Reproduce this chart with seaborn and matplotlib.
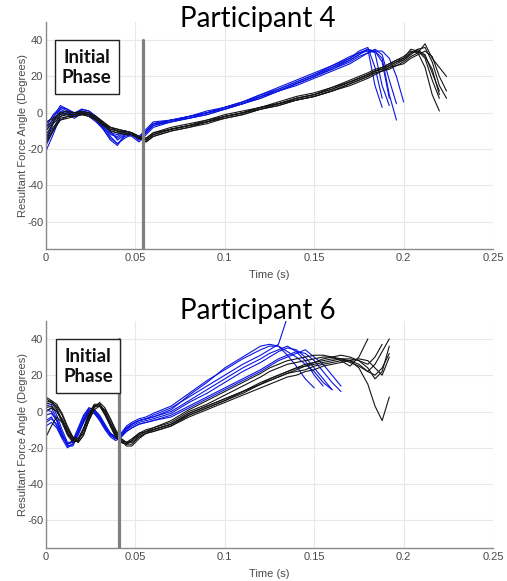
import numpy as np
import pandas as pd
import seaborn as sns
import matplotlib
matplotlib.use("Agg")
import matplotlib.pyplot as plt
from matplotlib.patches import Rectangle

# time grids (s)
t_p4 = [0, .004, .008, .012, .016, .020, .024, .028, .032, .036, .040, .044, .048, .052,
        .056, .060, .070, .080, .090, .100, .110, .120, .130, .140, .150, .160, .170, .175,
        .180, .184, .188, .192, .196, .200, .204, .208, .212, .216, .220, .224]
t_p6 = [0, .003, .006, .009, .012, .015, .018, .021, .024, .027, .030, .033, .036, .039,
        .042, .045, .048, .052, .056, .060, .070, .080, .090, .100, .110, .120, .125, .130,
        .135, .140, .145, .150, .155, .160, .165, .170, .175, .180, .184, .188, .192]

# participant 4 traces (degrees)
p4_blue = [
    [-21, -12, -2, 0, -1, 1, 0, -3, -8, -13, -17, -13, -12, -15, -11, -7, -4, -2, 0, 3, 6, 10, 13, 17, 21, 26, 30, 33, 35, 15, 3],
    [-16, -6, 3, 1, -2, 0, -1, -4, -9, -15, -18, -12, -11, -14, -10, -6, -4, -3, -1, 2, 5, 9, 12, 16, 20, 24, 29, 32, 35, 33, 15, 4],
    [-10, -3, 4, 2, -1, 1, 0, -3, -7, -11, -14, -11, -12, -14, -10, -6, -5, -2, 0, 3, 6, 10, 14, 18, 22, 26, 31, 33, 34, 34, 30, 10, -4],
    [-6, -2, 2, 0, -2, -1, -1, -4, -8, -12, -13, -10, -11, -13, -9, -5, -4, -2, 1, 3, 5, 8, 12, 15, 19, 23, 27, 30, 33, 34, 34, 30, 20, 6],
    [-18, -10, 0, 1, -1, 2, 1, -2, -6, -10, -15, -12, -13, -16, -12, -8, -5, -3, -1, 2, 5, 9, 13, 17, 21, 25, 30, 34, 36, 25, 8],
    [-14, -5, 1, -1, -3, 0, -2, -5, -9, -14, -17, -14, -12, -15, -11, -7, -5, -3, 0, 2, 5, 8, 12, 16, 20, 25, 29, 32, 35, 34, 28, 8],
    [-8, -1, 3, 2, 0, 2, 1, -2, -6, -11, -12, -10, -11, -14, -10, -6, -4, -2, 0, 3, 6, 9, 12, 16, 20, 24, 28, 31, 33, 35, 32, 18, 5],
]
p4_black = [
    [-14, -8, -3, -2, -1, 0, -1, -3, -6, -9, -10, -11, -12, -14, -15, -12, -9, -7, -5, -2, 0, 3, 5, 8, 10, 13, 17, 19, 21, 23, 24, 26, 28, 30, 33, 34, 30, 18, 8],
    [-17, -10, -4, -3, -2, -1, -2, -4, -7, -10, -11, -12, -12, -13, -16, -13, -10, -8, -5, -3, -1, 2, 4, 7, 9, 12, 16, 18, 20, 22, 23, 25, 27, 29, 32, 35, 36, 28, 15, 8],
    [-10, -5, -1, 0, 0, 1, 0, -2, -5, -8, -9, -10, -11, -13, -14, -11, -8, -6, -4, -1, 1, 3, 6, 9, 11, 14, 18, 20, 22, 24, 25, 27, 29, 31, 34, 33, 25, 10, 1],
    [-5, -3, 0, 1, 0, 0, -1, -3, -6, -9, -10, -11, -12, -14, -15, -12, -9, -7, -5, -2, 0, 2, 5, 7, 9, 12, 16, 18, 20, 22, 23, 25, 26, 28, 31, 33, 38, 30, 25, 20],
    [-12, -6, -2, -1, -1, 0, -1, -3, -6, -8, -9, -10, -11, -13, -14, -11, -9, -7, -4, -2, 0, 3, 5, 8, 10, 13, 17, 19, 21, 23, 25, 27, 29, 30, 35, 34, 32, 22, 12],
    [-16, -9, -4, -2, -2, -1, -1, -4, -7, -10, -11, -11, -12, -14, -16, -13, -10, -8, -6, -3, -1, 2, 4, 7, 9, 12, 15, 17, 19, 21, 23, 24, 26, 27, 30, 32, 34, 31, 20, 12],
    [-8, -4, 0, -1, -1, 0, 0, -2, -5, -8, -10, -10, -11, -13, -15, -12, -9, -7, -5, -2, 0, 3, 5, 8, 10, 14, 17, 19, 21, 23, 24, 26, 28, 29, 33, 35, 31, 24, 10],
]

# participant 6 traces (degrees)
p6_blue = [
    [0, 2, -4, -12, -19, -18, -12, -5, 1, 0, -4, -9, -13, -15, -13, -9, -7, -5, -4, -3, 1, 9, 16, 24, 30, 36, 37, 36, 31, 25, 18, 13],
    [-5, -3, -8, -14, -18, -16, -9, -2, 2, 1, -3, -8, -12, -14, -13, -10, -7, -5, -4, -2, 2, 8, 14, 20, 26, 31, 34, 37, 52],
    [-8, -6, -9, -15, -20, -18, -12, -5, 0, -1, -5, -10, -14, -16, -14, -10, -8, -6, -5, -4, -1, 5, 10, 16, 22, 27, 30, 33, 35, 34, 30, 24, 18, 12],
    [3, 4, -2, -10, -17, -17, -12, -6, 0, 1, -2, -7, -12, -15, -14, -11, -9, -7, -6, -5, -2, 3, 8, 13, 18, 23, 26, 29, 31, 33, 32, 28, 22, 16, 11],
    [-2, -1, -5, -12, -18, -17, -11, -4, 1, 0, -4, -9, -13, -14, -12, -9, -7, -5, -4, -3, 0, 6, 12, 18, 24, 29, 32, 34, 36, 33, 28, 20, 14],
    [-6, -4, -7, -13, -19, -19, -13, -6, -1, -1, -4, -9, -13, -15, -14, -11, -9, -7, -6, -5, -3, 2, 7, 12, 17, 22, 25, 28, 30, 32, 34, 30, 26, 20, 14],
    [1, 0, -5, -13, -18, -16, -10, -3, 2, 1, -3, -8, -12, -14, -12, -8, -6, -4, -3, -1, 3, 10, 17, 23, 29, 34, 36, 36, 33, 30, 26, 22, 16, 12],
]
p6_black = [
    [8, 6, 2, -5, -12, -16, -15, -9, -1, 4, 4, -1, -8, -14, -17, -18, -16, -12, -10, -9, -6, 0, 4, 9, 14, 19, 22, 24, 26, 27, 28, 29, 30, 30, 29, 27, 25, 22, 26, 33, 40],
    [5, 6, 4, -1, -8, -14, -17, -13, -5, 2, 5, 2, -4, -11, -16, -19, -19, -15, -12, -11, -8, -2, 2, 6, 10, 15, 17, 19, 21, 23, 25, 27, 28, 29, 29, 28, 24, 15, 3, -5, 8],
    [-14, -8, -3, -6, -12, -16, -16, -10, -3, 3, 3, -1, -7, -13, -16, -17, -15, -12, -11, -10, -7, -1, 3, 7, 11, 16, 18, 20, 22, 24, 26, 27, 29, 30, 31, 30, 28, 26, 30, 37],
    [2, 3, 0, -5, -11, -15, -15, -10, -2, 3, 4, 0, -6, -12, -15, -17, -16, -13, -11, -10, -7, -1, 3, 7, 11, 15, 17, 19, 21, 22, 23, 25, 26, 27, 28, 28, 26, 22, 20, 24, 32],
    [7, 5, 1, -6, -13, -17, -16, -10, -2, 3, 3, -2, -8, -14, -17, -18, -16, -13, -11, -9, -5, 1, 6, 11, 16, 21, 24, 26, 28, 29, 30, 31, 31, 30, 28, 25, 30, 40],
    [0, 2, 0, -4, -10, -14, -15, -12, -5, 1, 3, 1, -4, -10, -15, -17, -17, -14, -12, -11, -8, -3, 1, 5, 9, 13, 15, 17, 19, 20, 22, 23, 25, 26, 27, 28, 29, 28, 24, 20, 30],
    [4, 5, 3, -2, -9, -15, -17, -13, -4, 3, 4, 0, -6, -12, -16, -18, -18, -14, -12, -10, -7, -2, 2, 6, 11, 15, 18, 20, 22, 24, 25, 26, 27, 28, 29, 29, 28, 24, 18, 22, 36],
]

titles = ["Participant 4", "Participant 6"]
phase_end = [0.054, 0.041]
x_ticks = [0, 0.05, 0.1, 0.15, 0.2, 0.25]
x_labels = ["0", "0.05", "0.1", "0.15", "0.2", "0.25"]
y_ticks = [-60, -40, -20, 0, 20, 40]


def long_form(t, blue, black):
    rows = []
    for name, group in (("blue", blue), ("black", black)):
        for i, trace in enumerate(group):
            for tt, v in zip(t, trace):
                rows.append({"t": tt, "angle": v, "group": name, "trace": f"{name}{i}"})
    return pd.DataFrame(rows)


sns.set_style("whitegrid")
plt.rcParams["font.family"] = ["Liberation Sans", "DejaVu Sans"]
plt.rcParams["axes.unicode_minus"] = False

fig = plt.figure(figsize=(5.07, 5.81), dpi=100)
ax_top = fig.add_axes([0.0907, 0.5714, 0.8817, 0.3907])
ax_bot = fig.add_axes([0.0907, 0.0573, 0.8817, 0.3907])

panels = [(ax_top, t_p4, p4_blue, p4_black), (ax_bot, t_p6, p6_blue, p6_black)]
palette = {"blue": "#0a14e0", "black": "#151515"}

for k, (ax, t, blue, black) in enumerate(panels):
    df = long_form(t, blue, black)
    sns.lineplot(data=df, x="t", y="angle", hue="group", units="trace", estimator=None,
                 palette=palette, linewidth=0.8, legend=False, ax=ax, sort=False)
    ax.set_xlim(0, 0.25)
    ax.set_ylim(-75, 50)
    ax.set_xticks(x_ticks)
    ax.set_xticklabels(x_labels)
    ax.set_yticks(y_ticks)
    ax.grid(True, color="#e8e8e8", linewidth=0.8)
    for side in ("top", "right"):
        ax.spines[side].set_visible(False)
    for side in ("left", "bottom"):
        ax.spines[side].set_color("#8a8a8a")
        ax.spines[side].set_linewidth(1.0)
    ax.tick_params(direction="in", length=2.5, color="#8a8a8a", labelsize=8,
                   labelcolor="#4a4a4a", pad=3)
    ax.tick_params(axis="y", pad=2)
    ax.set_xlabel("Time (s)", fontsize=8, color="#4a4a4a", labelpad=5)
    ax.set_ylabel("Resultant Force Angle (Degrees)", fontsize=8, color="#4a4a4a", labelpad=-1)

    # end of initial phase marker
    ax.plot([phase_end[k], phase_end[k]], [-75, 40], color="#808080", linewidth=2.3, zorder=4)

    x0 = 0.005 if k == 0 else 0.0056
    ax.add_patch(Rectangle((x0, 10.3), 0.0357, 29.9, facecolor="white", edgecolor="#222222",
                           linewidth=1.0, zorder=5))
    ax.text(x0 + 0.0357 / 2, 25.0, "Initial\nPhase", ha="center", va="center", fontsize=13.5,
            fontweight="bold", family=["Lato", "DejaVu Sans"], linespacing=1.2, zorder=6,
            color="#111111")

fig.text(258 / 507, 1 - 19 / 581, titles[0], ha="center", va="center", fontsize=20,
         family=["Lato", "DejaVu Sans"], color="black")
fig.text(258 / 507, 1 - 311 / 581, titles[1], ha="center", va="center", fontsize=20,
         family=["Lato", "DejaVu Sans"], color="black")

fig.savefig("out.png", dpi=100)
